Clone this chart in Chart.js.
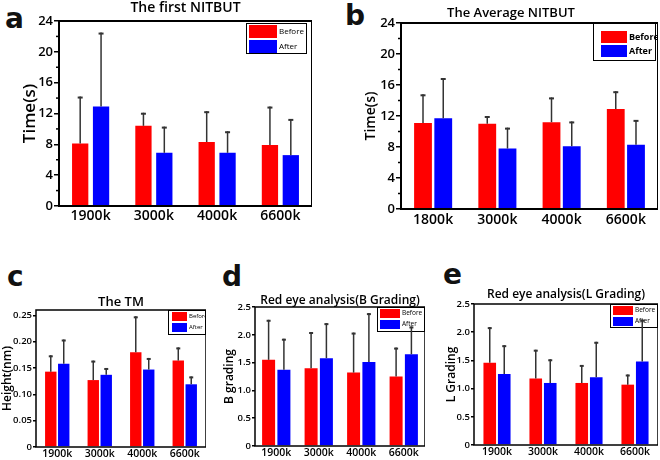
<!DOCTYPE html>
<html>
<head>
<meta charset="utf-8">
<script src="https://cdn.jsdelivr.net/npm/chart.js@4.4.0/dist/chart.umd.min.js"></script>
<style>
  body { margin: 0; background: #fff; width: 660px; height: 460px; position: relative; overflow: hidden; }
  canvas { position: absolute; }
  .tag { position: absolute; font-family: 'DejaVu Sans', sans-serif; font-weight: bold; font-size: 28px; line-height: 1; color: #111; }
</style>
</head>
<body>
<div class="tag" style="left:5px;top:5px">a</div>
<div class="tag" style="left:345px;top:2px">b</div>
<div class="tag" style="left:7px;top:263px">c</div>
<div class="tag" style="left:222px;top:263px">d</div>
<div class="tag" style="left:443px;top:261px">e</div>

<canvas id="chartA"></canvas>
<canvas id="chartB"></canvas>
<canvas id="chartC"></canvas>
<canvas id="chartD"></canvas>
<canvas id="chartE"></canvas>

<script>
// data (means and upper SD)
var catsA = ['1900k', '3000k', '4000k', '6600k'];
var beforeA = [8.1, 10.4, 8.3, 7.9];
var beforeSdA = [6.1, 1.7, 4.0, 5.0];
var afterA = [12.9, 6.9, 6.9, 6.6];
var afterSdA = [9.6, 3.4, 2.8, 4.7];

var catsB = ['1800k', '3000k', '4000k', '6600k'];
var beforeB = [11.1, 11.0, 11.2, 12.9];
var beforeSdB = [3.7, 1.0, 3.2, 2.3];
var afterB = [11.7, 7.8, 8.1, 8.3];
var afterSdB = [5.2, 2.7, 3.2, 3.2];

var catsC = ['1900k', '3000k', '4000k', '6600k'];
var beforeC = [0.143, 0.127, 0.180, 0.164];
var beforeSdC = [0.031, 0.037, 0.068, 0.025];
var afterC = [0.158, 0.137, 0.147, 0.119];
var afterSdC = [0.046, 0.013, 0.022, 0.015];

var catsD = ['1900k', '3000k', '4000k', '6600k'];
var beforeD = [1.55, 1.40, 1.32, 1.25];
var beforeSdD = [0.72, 0.65, 0.72, 0.52];
var afterD = [1.37, 1.58, 1.51, 1.65];
var afterSdD = [0.56, 0.63, 0.88, 0.50];

var catsE = ['1900k', '3000k', '4000k', '6600k'];
var beforeE = [1.46, 1.18, 1.10, 1.07];
var beforeSdE = [0.63, 0.51, 0.32, 0.18];
var afterE = [1.26, 1.10, 1.20, 1.48];
var afterSdE = [0.51, 0.42, 0.63, 0.74];

var RED = '#ff0000';
var BLUE = '#0000ff';

Chart.defaults.font.family = "'Open Sans', sans-serif";
Chart.defaults.color = '#000';

// frame, minor ticks, inside legend, then error bars on top
var panelDecor = {
  id: 'panelDecor',
  afterDatasetsDraw: function (chart, args, o) {
    var ctx = chart.ctx, a = chart.chartArea, y = chart.scales.y;
    ctx.save();

    ctx.strokeStyle = '#000';
    ctx.lineWidth = o.frame;
    ctx.strokeRect(a.left, a.top, a.right - a.left, a.bottom - a.top);

    if (o.minor) {
      var t = y.ticks;
      ctx.lineWidth = 1.5;
      for (var k = 0; k < t.length - 1; k++) {
        var py = y.getPixelForValue((t[k].value + t[k + 1].value) / 2);
        ctx.beginPath();
        ctx.moveTo(a.left - 3, py);
        ctx.lineTo(a.left, py);
        ctx.stroke();
      }
    }

    var L = o.legend;
    var bx = a.right - L.right - L.w, by = a.top + L.top;
    ctx.fillStyle = '#fff';
    ctx.fillRect(bx, by, L.w, L.h);
    ctx.lineWidth = 1;
    ctx.strokeStyle = '#000';
    ctx.strokeRect(bx + 0.5, by + 0.5, L.w - 1, L.h - 1);
    ctx.font = L.font;
    ctx.textBaseline = 'middle';
    chart.data.datasets.forEach(function (ds, i) {
      var sy = by + L.pad + i * (L.sh + L.gap);
      ctx.fillStyle = ds.backgroundColor;
      ctx.fillRect(bx + L.padX, sy, L.sw, L.sh);
      ctx.fillStyle = '#000';
      ctx.fillText(ds.label, bx + L.padX + L.sw + 2, sy + L.sh / 2);
    });

    ctx.strokeStyle = '#333';
    chart.data.datasets.forEach(function (ds, i) {
      chart.getDatasetMeta(i).data.forEach(function (bar, j) {
        var top = y.getPixelForValue(ds.data[j] + ds.sd[j]);
        ctx.lineWidth = 1.5;
        ctx.beginPath();
        ctx.moveTo(bar.x, bar.y);
        ctx.lineTo(bar.x, top);
        ctx.stroke();
        ctx.lineWidth = 2;
        ctx.beginPath();
        ctx.moveTo(bar.x - o.cap, top + 1);
        ctx.lineTo(bar.x + o.cap, top + 1);
        ctx.stroke();
      });
    });
    ctx.restore();
  }
};

function makePanel(id, p) {
  var el = document.getElementById(id);
  el.width = p.r - p.left;
  el.height = p.b + p.xH - p.top;
  el.style.left = p.left + 'px';
  el.style.top = p.top + 'px';

  var titlePadTop = p.titleY - p.top - p.titleSize / 2;
  var yTitlePad = p.yTitleX - p.left - p.yTitleSize / 2;

  return new Chart(el, {
    type: 'bar',
    data: {
      labels: p.cats,
      datasets: [
        { label: 'Before', data: p.before, sd: p.beforeSd, backgroundColor: RED,
          categoryPercentage: p.catPct, barPercentage: p.barPct },
        { label: 'After', data: p.after, sd: p.afterSd, backgroundColor: BLUE,
          categoryPercentage: p.catPct, barPercentage: p.barPct }
      ]
    },
    options: {
      responsive: false,
      animation: false,
      devicePixelRatio: 1,
      layout: { padding: 0 },
      plugins: {
        legend: { display: false },
        tooltip: { enabled: false },
        title: {
          display: true,
          text: p.title,
          fullSize: p.fullTitle,
          color: '#000',
          font: { size: p.titleSize, weight: p.titleWeight, lineHeight: 1 },
          padding: { top: titlePadTop, bottom: p.t - p.top - titlePadTop - p.titleSize }
        },
        panelDecor: { frame: p.frame, minor: p.minor, cap: p.cap, legend: p.legend }
      },
      scales: {
        x: {
          grid: { display: false, drawTicks: false },
          border: { display: false },
          ticks: { font: { size: p.xFont, weight: p.tickWeight }, padding: p.xPad },
          afterFit: function (s) { s.height = p.xH; }
        },
        y: {
          min: 0,
          max: p.yMax,
          grid: { drawOnChartArea: false, drawTicks: true, tickLength: p.tickLen, color: '#000', lineWidth: 1.5 },
          border: { display: false },
          ticks: { stepSize: p.step, includeBounds: false, padding: 1,
                   font: { size: p.yFont, weight: p.tickWeight } },
          title: {
            display: true,
            text: p.yTitle,
            color: '#000',
            font: { size: p.yTitleSize, weight: p.yTitleWeight, lineHeight: 1 },
            padding: { top: yTitlePad, bottom: 0 }
          },
          afterFit: function (s) { s.width = p.l - p.left; }
        }
      }
    },
    plugins: [panelDecor]
  });
}

makePanel('chartA', {
  cats: catsA, before: beforeA, beforeSd: beforeSdA, after: afterA, afterSd: afterSdA,
  left: 0, top: 0, l: 59, t: 21, r: 312, b: 206, xH: 22,
  title: 'The first NITBUT', titleSize: 14, titleWeight: '600', titleY: 8.5, fullTitle: false,
  yTitle: 'Time(s)', yTitleSize: 17, yTitleWeight: '600', yTitleX: 30,
  yMax: 24, step: 4, minor: true, tickLen: 5, yFont: 13, xFont: 14, xPad: 2, tickWeight: '600',
  catPct: 0.66, barPct: 0.78, frame: 2, cap: 2.5,
  legend: { w: 61, h: 31, right: 5, top: 2, padX: 3, pad: 2, sw: 28, sh: 13, gap: 2, font: "8px 'Open Sans'" }
});

makePanel('chartB', {
  cats: catsB, before: beforeB, beforeSd: beforeSdB, after: afterB, afterSd: afterSdB,
  left: 364, top: 0, l: 401, t: 23, r: 658, b: 209, xH: 22,
  title: 'The Average NITBUT', titleSize: 13, titleWeight: '600', titleY: 13.5, fullTitle: true,
  yTitle: 'Time(s)', yTitleSize: 14, yTitleWeight: '600', yTitleX: 371,
  yMax: 24, step: 4, minor: true, tickLen: 5, yFont: 13, xFont: 14, xPad: 3, tickWeight: '600',
  catPct: 0.63, barPct: 0.88, frame: 2, cap: 2.5,
  legend: { w: 63, h: 38, right: 2, top: 0, padX: 8, pad: 8, sw: 26, sh: 12, gap: 2, font: "bold 9px 'Open Sans'" }
});

makePanel('chartC', {
  cats: catsC, before: beforeC, beforeSd: beforeSdC, after: afterC, afterSd: afterSdC,
  left: 0, top: 290, l: 36, t: 310, r: 206, b: 447, xH: 14,
  title: 'The TM', titleSize: 13, titleWeight: '600', titleY: 302, fullTitle: false,
  yTitle: 'Height(nm)', yTitleSize: 12, yTitleWeight: '600', yTitleX: 8,
  yMax: 0.26, step: 0.05, minor: false, tickLen: 3, yFont: 9.5, xFont: 10.5, xPad: 1, tickWeight: '600',
  catPct: 0.61, barPct: 0.88, frame: 1.5, cap: 2,
  legend: { w: 38, h: 25, right: 0, top: 0, padX: 4, pad: 2, sw: 15, sh: 9, gap: 2, font: "6px 'Open Sans'" }
});

makePanel('chartD', {
  cats: catsD, before: beforeD, beforeSd: beforeSdD, after: afterD, afterSd: afterSdD,
  left: 222, top: 290, l: 255, t: 307, r: 425, b: 446, xH: 14,
  title: 'Red eye analysis(B Grading)', titleSize: 12, titleWeight: '600', titleY: 301, fullTitle: false,
  yTitle: 'B grading', yTitleSize: 12, yTitleWeight: '600', yTitleX: 230,
  yMax: 2.5, step: 0.5, minor: false, tickLen: 3, yFont: 9.5, xFont: 10.5, xPad: 1, tickWeight: '600',
  catPct: 0.72, barPct: 0.85, frame: 1.5, cap: 2,
  legend: { w: 48, h: 25, right: 0, top: 0, padX: 3, pad: 2, sw: 20, sh: 9, gap: 2, font: "6.5px 'Open Sans'" }
});

makePanel('chartE', {
  cats: catsE, before: beforeE, beforeSd: beforeSdE, after: afterE, afterSd: afterSdE,
  left: 441, top: 285, l: 474, t: 304, r: 658, b: 445, xH: 14,
  title: 'Red eye analysis(L Grading)', titleSize: 12, titleWeight: '600', titleY: 295, fullTitle: false,
  yTitle: 'L Grading', yTitleSize: 12, yTitleWeight: '600', yTitleX: 452,
  yMax: 2.5, step: 0.5, minor: false, tickLen: 3, yFont: 9.5, xFont: 10.5, xPad: 1, tickWeight: '600',
  catPct: 0.63, barPct: 0.87, frame: 1.5, cap: 2,
  legend: { w: 48, h: 24, right: 0, top: 0, padX: 3, pad: 2, sw: 20, sh: 9, gap: 2, font: "6.5px 'Open Sans'" }
});
</script>
</body>
</html>
